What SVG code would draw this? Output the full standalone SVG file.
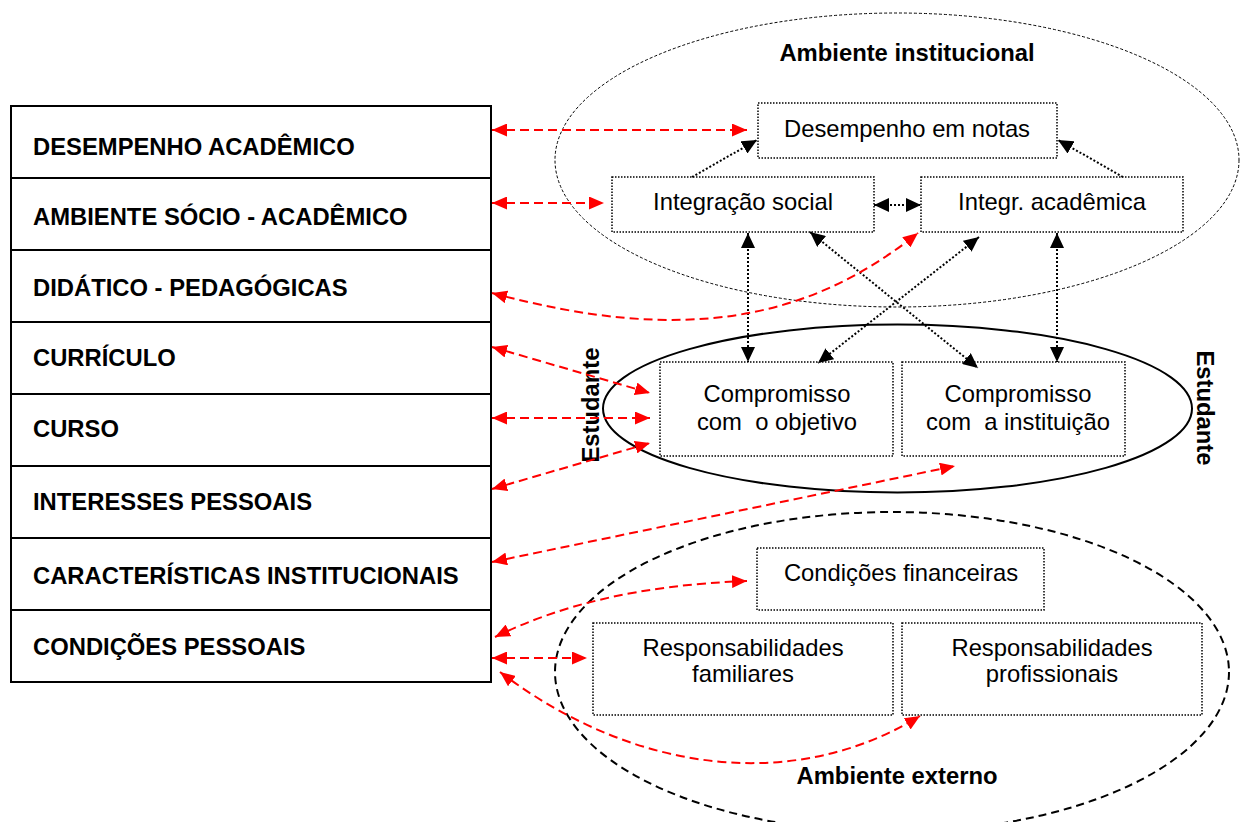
<svg xmlns="http://www.w3.org/2000/svg" width="1241" height="822" viewBox="0 0 1241 822">
  <style>
    text { font-family: "Liberation Sans", Arial, sans-serif; font-size: 23.8px; fill: #000; }
    .lbl { font-weight: bold; }
    .mid { text-anchor: middle; }
    .pre { white-space: pre; }
    .row { fill: #fff; stroke: #000; stroke-width: 2; }
    .box { fill: #fff; stroke: #000; stroke-width: 1.5; stroke-dasharray: 1.5 1.5; }
    .blk { fill: none; stroke: #000; stroke-width: 2; stroke-dasharray: 2 2; }
    .red { fill: none; stroke: #ff0000; stroke-width: 2; stroke-dasharray: 9 5; }
  </style>
  <defs>
    <marker id="headB" viewBox="0 0 15 14" refX="15" refY="7" markerWidth="15" markerHeight="14" markerUnits="userSpaceOnUse" orient="auto-start-reverse">
      <path d="M0,0 L15,7 L0,14 z" fill="#000"/>
    </marker>
    <marker id="headR" viewBox="0 0 15 13" refX="15" refY="6.5" markerWidth="15" markerHeight="13" markerUnits="userSpaceOnUse" orient="auto-start-reverse">
      <path d="M0,0 L15,6.5 L0,13 z" fill="#ff0000"/>
    </marker>
  </defs>
  <rect width="1241" height="822" fill="#fff"/>

  <!-- environment ellipses -->
  <g id="ambiente-institucional">
    <ellipse cx="897" cy="160" rx="342" ry="147" fill="none" stroke="#000" stroke-width="1" stroke-dasharray="3 2"/>
    <text class="lbl mid" x="907" y="61">Ambiente institucional</text>
  </g>
  <g id="estudante">
    <ellipse cx="897.5" cy="408.5" rx="294.5" ry="84" fill="none" stroke="#000" stroke-width="2"/>
  </g>
  <g id="ambiente-externo">
    <ellipse cx="892" cy="672" rx="337" ry="160" fill="none" stroke="#000" stroke-width="2" stroke-dasharray="8 5"/>
    <text class="lbl mid" x="897" y="784">Ambiente externo</text>
  </g>

  <!-- factor table -->
  <g id="tabela">
    <rect class="row" x="11" y="106" width="480" height="72"/>
    <rect class="row" x="11" y="178" width="480" height="72"/>
    <rect class="row" x="11" y="250" width="480" height="72"/>
    <rect class="row" x="11" y="322" width="480" height="72"/>
    <rect class="row" x="11" y="394" width="480" height="72"/>
    <rect class="row" x="11" y="466" width="480" height="72"/>
    <rect class="row" x="11" y="538" width="480" height="72"/>
    <rect class="row" x="11" y="610" width="480" height="72"/>
    <text class="lbl" x="33" y="155">DESEMPENHO ACADÊMICO</text>
    <text class="lbl" x="33" y="225">AMBIENTE SÓCIO - ACADÊMICO</text>
    <text class="lbl" x="33" y="296">DIDÁTICO - PEDAGÓGICAS</text>
    <text class="lbl" x="33" y="366">CURRÍCULO</text>
    <text class="lbl" x="33" y="437">CURSO</text>
    <text class="lbl" x="33" y="510">INTERESSES PESSOAIS</text>
    <text class="lbl" x="33" y="584">CARACTERÍSTICAS INSTITUCIONAIS</text>
    <text class="lbl" x="33" y="655">CONDIÇÕES PESSOAIS</text>
  </g>

  <!-- nodes -->
  <g id="desempenho-notas">
    <rect class="box" x="758" y="103" width="299" height="55"/>
    <text class="mid" x="907" y="137">Desempenho em notas</text>
  </g>
  <g id="integracao-social">
    <rect class="box" x="612" y="177" width="262" height="55"/>
    <text class="mid" x="743" y="210">Integração social</text>
  </g>
  <g id="integracao-academica">
    <rect class="box" x="921" y="177" width="262" height="55"/>
    <text class="mid" x="1052" y="210">Integr. acadêmica</text>
  </g>
  <g id="compromisso-objetivo">
    <rect class="box" x="660" y="362" width="233" height="94"/>
    <text class="mid" x="777" y="402">Compromisso</text>
    <text class="mid pre" x="777" y="430">com  o objetivo</text>
  </g>
  <g id="compromisso-instituicao">
    <rect class="box" x="902" y="362" width="223" height="94"/>
    <text class="mid" x="1018" y="402">Compromisso</text>
    <text class="mid pre" x="1018" y="430">com  a instituição</text>
  </g>
  <g id="condicoes-financeiras">
    <rect class="box" x="757" y="548" width="287" height="62"/>
    <text class="mid" x="901" y="581">Condições financeiras</text>
  </g>
  <g id="resp-familiares">
    <rect class="box" x="593" y="623" width="300" height="92"/>
    <text class="mid" x="743" y="656">Responsabilidades</text>
    <text class="mid" x="743" y="682">familiares</text>
  </g>
  <g id="resp-profissionais">
    <rect class="box" x="902" y="623" width="300" height="92"/>
    <text class="mid" x="1052" y="656">Responsabilidades</text>
    <text class="mid" x="1052" y="682">profissionais</text>
  </g>

  <!-- side labels of the student ellipse -->
  <g id="estudante-rotulos">
    <text class="lbl mid" transform="translate(599,405) rotate(-90)">Estudante</text>
    <text class="lbl mid" transform="translate(1197,408) rotate(90)">Estudante</text>
  </g>

  <!-- connectors -->
  <g id="conectores">
    <!-- internal relations -->
    <line class="blk" x1="692" y1="177" x2="757" y2="140" marker-end="url(#headB)"/>
    <line class="blk" x1="1123" y1="177" x2="1058" y2="140" marker-end="url(#headB)"/>
    <line class="blk" x1="874" y1="205" x2="921" y2="205" marker-start="url(#headB)" marker-end="url(#headB)"/>
    <line class="blk" x1="748" y1="233" x2="748" y2="362" marker-start="url(#headB)" marker-end="url(#headB)"/>
    <line class="blk" x1="1057" y1="233" x2="1057" y2="362" marker-start="url(#headB)" marker-end="url(#headB)"/>
    <line class="blk" x1="810" y1="232" x2="978" y2="368" marker-start="url(#headB)" marker-end="url(#headB)"/>
    <line class="blk" x1="979" y1="237" x2="818" y2="363" marker-start="url(#headB)" marker-end="url(#headB)"/>

    <!-- factor links -->
    <line class="red" x1="492" y1="130" x2="747" y2="130" marker-start="url(#headR)" marker-end="url(#headR)"/>
    <line class="red" x1="492" y1="203" x2="604" y2="203" marker-start="url(#headR)" marker-end="url(#headR)"/>
    <path class="red" d="M492,293 C685,345 809,320 918,233" marker-start="url(#headR)" marker-end="url(#headR)"/>
    <line class="red" x1="492" y1="347" x2="650" y2="393" marker-start="url(#headR)" marker-end="url(#headR)"/>
    <line class="red" x1="492" y1="418" x2="650" y2="418" marker-start="url(#headR)" marker-end="url(#headR)"/>
    <line class="red" x1="492" y1="489" x2="650" y2="443" marker-start="url(#headR)" marker-end="url(#headR)"/>
    <line class="red" x1="492" y1="562" x2="955" y2="466" marker-start="url(#headR)" marker-end="url(#headR)"/>
    <path class="red" d="M495,637 C560,605 640,585 747,581" marker-start="url(#headR)" marker-end="url(#headR)"/>
    <line class="red" x1="492" y1="658" x2="587" y2="658" marker-start="url(#headR)" marker-end="url(#headR)"/>
    <path class="red" d="M500,672 C640,778 800,790 920,716" marker-start="url(#headR)" marker-end="url(#headR)"/>
  </g>
</svg>
